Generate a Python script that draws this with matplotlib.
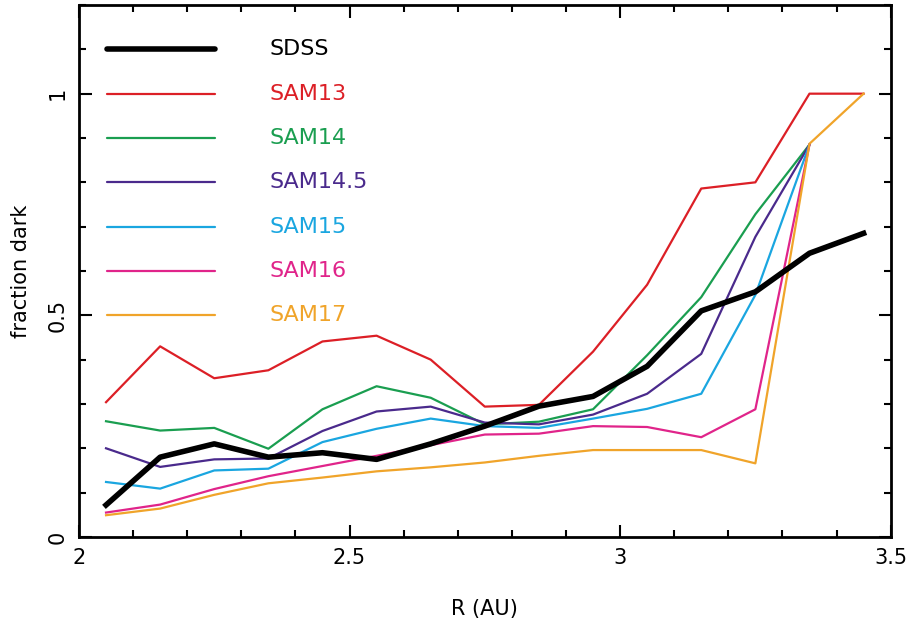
import matplotlib.pyplot as plt
import numpy as np
from matplotlib.ticker import MultipleLocator

# Data
r_all = [2.05, 2.15, 2.25, 2.35, 2.45, 2.55, 2.65, 2.75, 2.85, 2.95, 3.05, 3.15, 3.25, 3.35, 3.45]
r_short = r_all[:-1]

sdss = [0.072, 0.18, 0.21, 0.18, 0.19, 0.175, 0.21, 0.25, 0.295, 0.317, 0.385, 0.51, 0.553, 0.64, 0.685]
sam13 = [0.304, 0.43, 0.358, 0.376, 0.441, 0.454, 0.40, 0.294, 0.298, 0.418, 0.569, 0.786, 0.80, 1.0, 1.0]
sam14 = [0.261, 0.24, 0.246, 0.199, 0.288, 0.34, 0.314, 0.254, 0.26, 0.288, 0.41, 0.541, 0.728, 0.885]
sam145 = [0.2, 0.158, 0.175, 0.177, 0.239, 0.283, 0.294, 0.258, 0.254, 0.276, 0.323, 0.413, 0.677, 0.885]
sam15 = [0.124, 0.109, 0.15, 0.154, 0.214, 0.244, 0.267, 0.25, 0.246, 0.267, 0.289, 0.323, 0.546, 0.885]
sam16 = [0.055, 0.073, 0.108, 0.137, 0.16, 0.183, 0.207, 0.231, 0.233, 0.25, 0.248, 0.225, 0.288, 0.885]
sam17 = [0.049, 0.064, 0.095, 0.121, 0.134, 0.148, 0.157, 0.168, 0.183, 0.196, 0.196, 0.196, 0.166, 0.887, 1.0]

labels = ['SDSS', 'SAM13', 'SAM14', 'SAM14.5', 'SAM15', 'SAM16', 'SAM17']
colors = ['black', '#dc1f26', '#1a9e50', '#4a2a8c', '#1aa6e0', '#e0248a', '#f0a42a']
series = [(r_all, sdss), (r_all, sam13), (r_short, sam14), (r_short, sam145),
          (r_short, sam15), (r_short, sam16), (r_all, sam17)]
legend_y = [1.1, 1.0, 0.9, 0.8, 0.7, 0.6, 0.5]

plt.rcParams['font.family'] = ['DejaVu Sans']

fig = plt.figure(figsize=(9.13, 6.28), dpi=100)
ax = fig.add_axes([0.0865, 0.145, 0.889, 0.847])

for (x, y), c, lab, ly in zip(series, colors, labels, legend_y):
    lw = 4 if lab == 'SDSS' else 1.6
    ax.plot(x, y, color=c, lw=lw, zorder=3 if lab == 'SDSS' else 2)
    # hand-drawn legend in the top-left corner
    ax.plot([2.052, 2.252], [ly, ly], color=c, lw=lw, solid_capstyle='round')
    ax.text(2.353, ly, lab, color=c, fontsize=16, va='center', ha='left')

ax.set_xlim(2, 3.5)
ax.set_ylim(0, 1.2)
ax.xaxis.set_minor_locator(MultipleLocator(0.1))
ax.yaxis.set_minor_locator(MultipleLocator(0.1))
ax.set_xticks([2, 2.5, 3, 3.5])
ax.set_xticklabels(['2', '2.5', '3', '3.5'])
ax.set_yticks([0, 0.5, 1])
ax.set_yticklabels(['0', '0.5', '1'], rotation=90, va='center')

ax.tick_params(which='both', direction='in', top=True, right=True, width=1.5, labelsize=15)
ax.tick_params(which='major', length=9, pad=8)
ax.tick_params(which='minor', length=5)
for s in ax.spines.values():
    s.set_linewidth(2)

ax.set_xlabel('R (AU)', fontsize=15, labelpad=22)
ax.set_ylabel('fraction dark', fontsize=15, labelpad=12)

fig.savefig('out.png', dpi=100)
